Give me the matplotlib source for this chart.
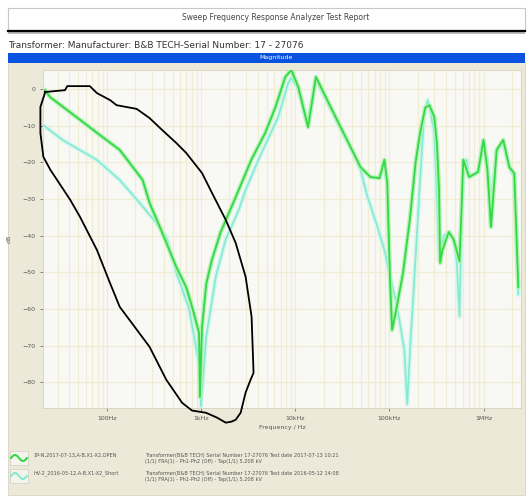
import matplotlib.pyplot as plt
from matplotlib.patches import Rectangle
from matplotlib.lines import Line2D
import numpy as np

# Trace 1 (green) - frequency in Hz, magnitude in dB
green_f = [22, 25, 52, 84, 137, 240, 284, 388, 546, 695, 804, 953, 975, 1025, 1139,
           1306, 1618, 2120, 2517, 3420, 4800, 6180, 7850, 9100, 10800, 13700, 16600,
           23900, 30400, 38700, 49400, 63000, 78700, 88600, 95000, 102000, 107000,
           120000, 140000, 166000, 190000, 212000, 241000, 266000, 300000, 320000, 337000,
           346000, 365000, 428000, 481000, 518000, 556000, 580000, 610000, 704000,
           876000, 1000000, 1100000, 1200000, 1380000, 1620000, 1880000, 2120000, 2340000]
green_db = [-0.3, -2.2, -8.4, -12.5, -16.6, -24.8, -31.0, -39.2, -48.5, -54.0, -59.4, -66.5,
            -84.0, -65.0, -53.0, -46.6, -39.0, -32.0, -27.5, -19.3, -12.0, -4.9, 3.3, 5.2,
            0.5, -10.4, 3.3, -5.0, -10.4, -15.8, -21.3, -24.0, -24.3, -19.3, -25.6, -53.0,
            -65.7, -59.4, -50.0, -35.0, -20.0, -12.0, -5.0, -4.4, -7.6, -15.0, -27.5, -47.4,
            -44.0, -39.0, -41.0, -44.0, -47.0, -35.0, -19.3, -24.0, -22.6, -13.9, -22.0,
            -37.6, -16.6, -13.9, -21.3, -23.0, -54.0]

# Trace 2 (light cyan)
cyan_f = [21, 34, 78, 84, 137, 222, 336, 428, 546, 748, 953, 1000, 1130, 1440, 1833,
          2517, 2980, 4070, 6610, 8430, 9100, 10800, 13700, 16600, 23900, 30400, 38700,
          49400, 58600, 74800, 88600, 102000, 120000, 144000, 155000, 166000, 183000,
          212000, 233000, 255000, 270000, 300000, 320000, 337000, 380000, 428000, 481000,
          518000, 556000, 580000, 610000, 661000, 704000, 876000, 1000000, 1100000,
          1200000, 1380000, 1620000, 1880000, 2120000, 2340000]
cyan_db = [-9.8, -13.9, -19.3, -20.0, -24.8, -31.0, -36.5, -40.3, -50.0, -60.0, -75.0,
           -86.6, -68.0, -51.0, -41.0, -33.0, -27.5, -19.3, -7.6, 1.6, 3.0, 0.0, -9.0, 2.5,
           -5.5, -11.0, -16.0, -22.0, -29.4, -37.6, -43.9, -51.2, -58.9, -71.0, -86.0,
           -71.0, -53.0, -24.8, -7.6, -3.0, -5.2, -12.0, -30.0, -46.6, -40.0, -39.0, -41.0,
           -46.6, -62.0, -40.0, -22.0, -19.3, -24.0, -22.6, -14.0, -20.0, -30.0, -17.0,
           -14.5, -21.5, -24.0, -56.0]

# hand drawn loop marked on the report
loop_f = [22.2, 36, 38, 66, 78.5, 108, 127, 207, 284, 388, 546, 695, 1025, 1306, 1833,
          2336, 2976, 3444, 3614, 3360, 2976, 2636, 2336, 2120, 1833, 1473, 1130, 804,
          631, 428, 284, 137, 108, 78.5, 52, 40.8, 25.1, 21.2, 19.7, 19.7, 22.2]
loop_db = [-0.8, -0.3, 0.8, 0.8, -1.1, -3.0, -4.4, -5.4, -7.9, -11.2, -14.7, -17.4, -22.9,
           -28.3, -35.7, -42.0, -51.2, -62.1, -77.4, -79.3, -82.8, -88.3, -90.2, -90.7,
           -91.0, -89.6, -88.3, -87.7, -85.6, -79.3, -70.3, -59.4, -52.9, -43.9, -34.9,
           -30.2, -22.0, -18.5, -12.0, -4.9, -0.8]

x_ticks = [100, 1000, 10000, 100000, 1000000]
x_labels = ['100Hz', '1kHz', '10kHz', '100kHz', '1MHz']
y_ticks = [0, -10, -20, -30, -40, -50, -60, -70, -80]

legend_names = ['1P-N,2017-07-13,A-B,X1-X2,OPEN', 'HV-2_2016-05-12,A-B,X1-X2_Short']
legend_desc = [
    ['Transformer(B&B TECH) Serial Number 17-27076 Test date 2017-07-13 10:21',
     '(1/1) FRA(1) - Ph1-Ph2 (Off) - Tap(1/1) 5.208 kV'],
    ['Transformer(B&B TECH) Serial Number 17-27076 Test date 2016-05-12 14:08',
     '(1/1) FRA(1) - Ph1-Ph2 (Off) - Tap(1/1) 5.208 kV'],
]

fig = plt.figure(figsize=(5.31, 5.0), dpi=100, facecolor='white')

def px(x, y, w, h):
    # pixel box (top-left origin) to figure fraction
    return (x / 531, 1 - (y + h) / 500, w / 531, h / 500)

def box(x, y, w, h, **kw):
    x0, y0, w0, h0 = px(x, y, w, h)
    fig.add_artist(Rectangle((x0, y0), w0, h0, transform=fig.transFigure, zorder=-5, **kw))

# header
box(8, 8, 517, 22, facecolor='white', edgecolor='#c8c8c8', lw=0.8)
fig.text(0.52, 1 - 18 / 500, 'Sweep Frequency Response Analyzer Test Report',
         ha='center', va='center', fontsize=5.5, color='#444444')
box(8, 30, 517, 4, facecolor='#b8b8b8', edgecolor='none')
fig.add_artist(Line2D([8 / 531, 525 / 531], [1 - 31 / 500, 1 - 31 / 500],
                      transform=fig.transFigure, color='black', lw=1.6))
fig.text(8 / 531, 1 - 45 / 500, 'Transformer: Manufacturer: B&B TECH-Serial Number: 17 - 27076',
         ha='left', va='center', fontsize=6.5, color='#333333')

# chart panel
box(8, 62, 517, 433, facecolor='#ece9d8', edgecolor='#d8d4c0', lw=0.6)
box(8, 53, 517, 10, facecolor='#0a52e0', edgecolor='none')
fig.text(0.52, 1 - 58 / 500, 'Magnitude', ha='center', va='center',
         fontsize=4.5, color='white')

ax = fig.add_axes([43 / 531, 1 - 408 / 500, 478 / 531, 338 / 500])
ax.set_facecolor('#f8f8f5')
# soft halo + core, like the anti-aliased traces in the report
ax.semilogx(cyan_f, cyan_db, color='#d2f7ee', lw=3.2, zorder=3)
ax.semilogx(cyan_f, cyan_db, color='#86ead0', lw=1.2, zorder=3)
ax.semilogx(green_f, green_db, color='#b4f2b8', lw=3.2, zorder=4)
ax.semilogx(green_f, green_db, color='#34d845', lw=1.3, zorder=4)
ax.plot(loop_f, loop_db, color='black', lw=1.3, clip_on=False, zorder=5)

ax.set_xlim(21, 2.5e6)
ax.set_ylim(-87, 5.2)
ax.set_xticks(x_ticks)
ax.set_xticklabels(x_labels)
ax.set_yticks(y_ticks)
ax.tick_params(labelsize=4.5, colors='#555555', length=2, width=0.5)
ax.tick_params(axis='x', which='minor', length=0)
ax.grid(True, which='both', axis='x', color='#f1ecd4', lw=0.9)
ax.grid(True, which='major', axis='y', color='#f1ecd4', lw=0.9)
ax.set_axisbelow(True)
for s in ax.spines.values():
    s.set_color('#d6d2bf')
    s.set_linewidth(0.6)
ax.set_xlabel('Frequency / Hz', fontsize=4.5, color='#555555', labelpad=3)
ax.set_ylabel('dB', fontsize=4.5, color='#555555', labelpad=8)

# legend
colors = ['#34d845', '#86ead0']
for i in range(2):
    ytop = 451 + i * 18
    box(10, ytop, 18, 14, facecolor='#f4f4ee', edgecolor='#d0d0c0', lw=0.5)
    t = np.linspace(0, 1, 20)
    fig.add_artist(Line2D((11 + 16 * t) / 531, 1 - (ytop + 7 - 3 * np.sin(t * 2 * np.pi)) / 500,
                          transform=fig.transFigure, color=colors[i], lw=1.5))
    fig.text(33 / 531, 1 - (ytop + 4) / 500, legend_names[i], fontsize=3.6,
             color='#555555', va='center')
    fig.text(145 / 531, 1 - (ytop + 4) / 500, legend_desc[i][0], fontsize=3.6,
             color='#555555', va='center')
    fig.text(145 / 531, 1 - (ytop + 10) / 500, legend_desc[i][1], fontsize=3.6,
             color='#555555', va='center')

fig.savefig('out.png', dpi=100)
